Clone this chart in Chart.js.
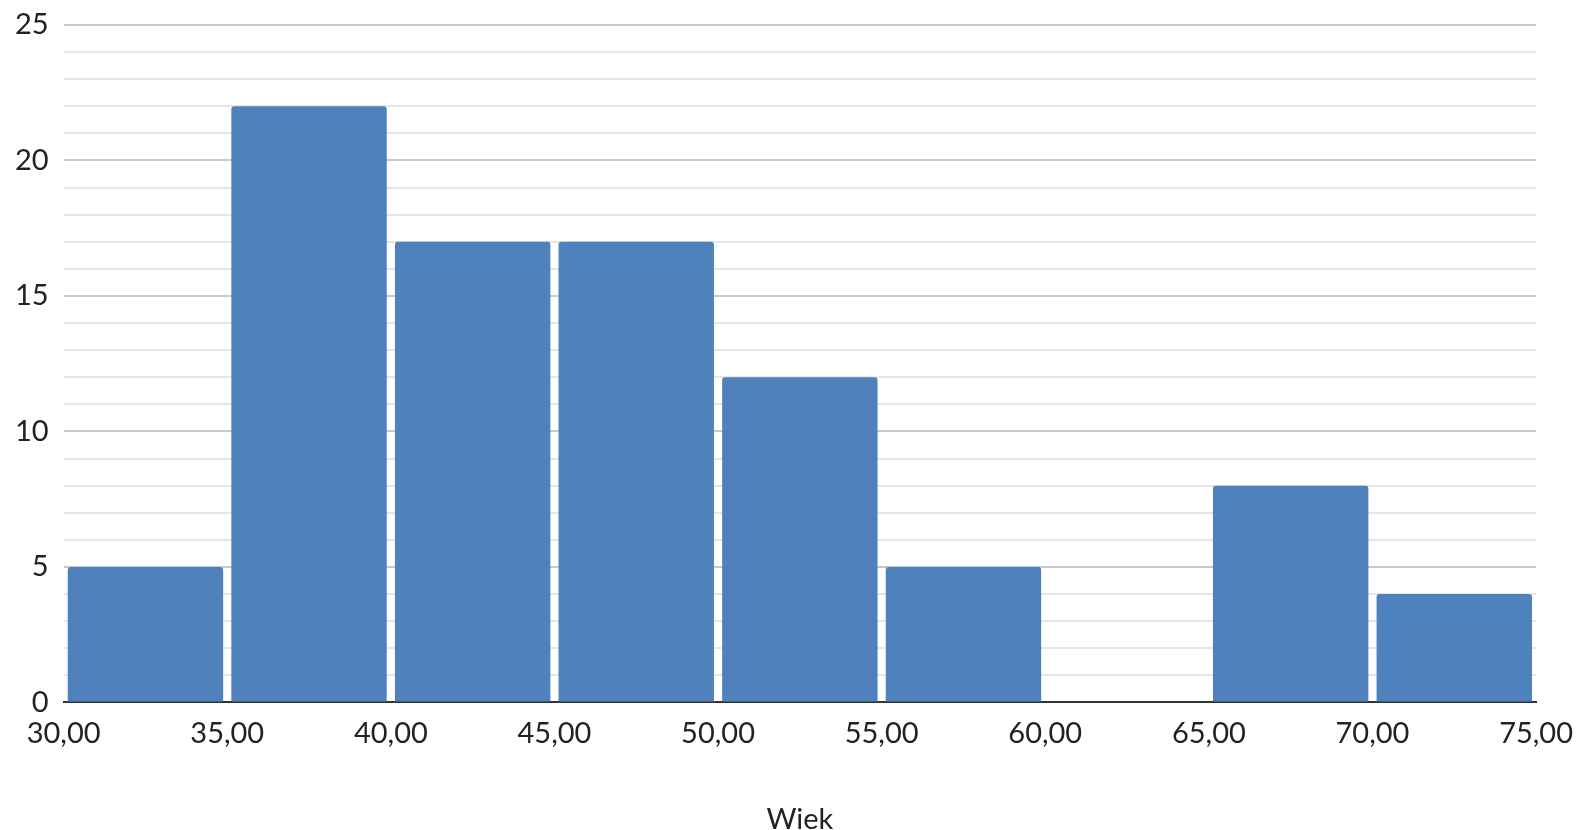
<!DOCTYPE html>
<html>
<head>
<meta charset="utf-8">
<script src="https://cdn.jsdelivr.net/npm/chart.js@4.4.0/dist/chart.umd.min.js"></script>
<style>
  html, body { margin: 0; padding: 0; background: #fff; }
  #wrap { width: 1579px; height: 830px; }
</style>
</head>
<body>
<div id="wrap"><canvas id="histChart"></canvas></div>
<script>
// bin centres (Wiek) and counts
const binCenters = [32.5, 37.5, 42.5, 47.5, 52.5, 57.5, 62.5, 67.5, 72.5];
const counts = [5, 22, 17, 17, 12, 5, 0, 8, 4];
const xMin = 30, xMax = 75, xStep = 5;
const yMax = 25;

const points = binCenters.map((c, i) => ({ x: c, y: counts[i] }));

Chart.defaults.font.family = "Lato, 'Noto Sans', sans-serif";
Chart.defaults.color = "#222";

new Chart("histChart", {
    type: "bar",
    data: {
        datasets: [{
            label: "Liczba",
            data: points,
            backgroundColor: "#4f81bd",
            borderRadius: 3,
            barPercentage: 0.95,
            categoryPercentage: 1
        }]
    },
    options: {
        responsive: true,
        maintainAspectRatio: false,
        animation: false,
        layout: { padding: { top: 0, right: 37, left: 0, bottom: -7 } },
        plugins: {
            legend: { display: false },
            tooltip: { enabled: false }
        },
        scales: {
            x: {
                type: "linear",
                min: xMin,
                max: xMax,
                offset: false,
                grid: { display: false, offset: false },
                border: { display: true, color: "#333", width: 2 },
                ticks: {
                    stepSize: xStep,
                    padding: 6,
                    font: { size: 29 },
                    maxRotation: 0,
                    callback: v => v.toFixed(2).replace(".", ",")
                },
                title: {
                    display: true,
                    text: "Wiek",
                    font: { size: 29 },
                    padding: { top: 45, bottom: 0 }
                }
            },
            y: {
                min: 0,
                max: yMax,
                border: { display: false },
                afterFit: s => { s.paddingTop = 25; },
                grid: {
                    drawTicks: false,
                    lineWidth: 2,
                    color: c => (c.tick.value % 5 === 0 ? "#c9c9c9" : "#e6e6e6")
                },
                ticks: {
                    stepSize: 1,
                    autoSkip: false,
                    padding: 15,
                    font: { size: 29, lineHeight: 1 },
                    callback: v => (v % 5 === 0 ? v : "")
                }
            }
        }
    }
});
</script>
</body>
</html>
